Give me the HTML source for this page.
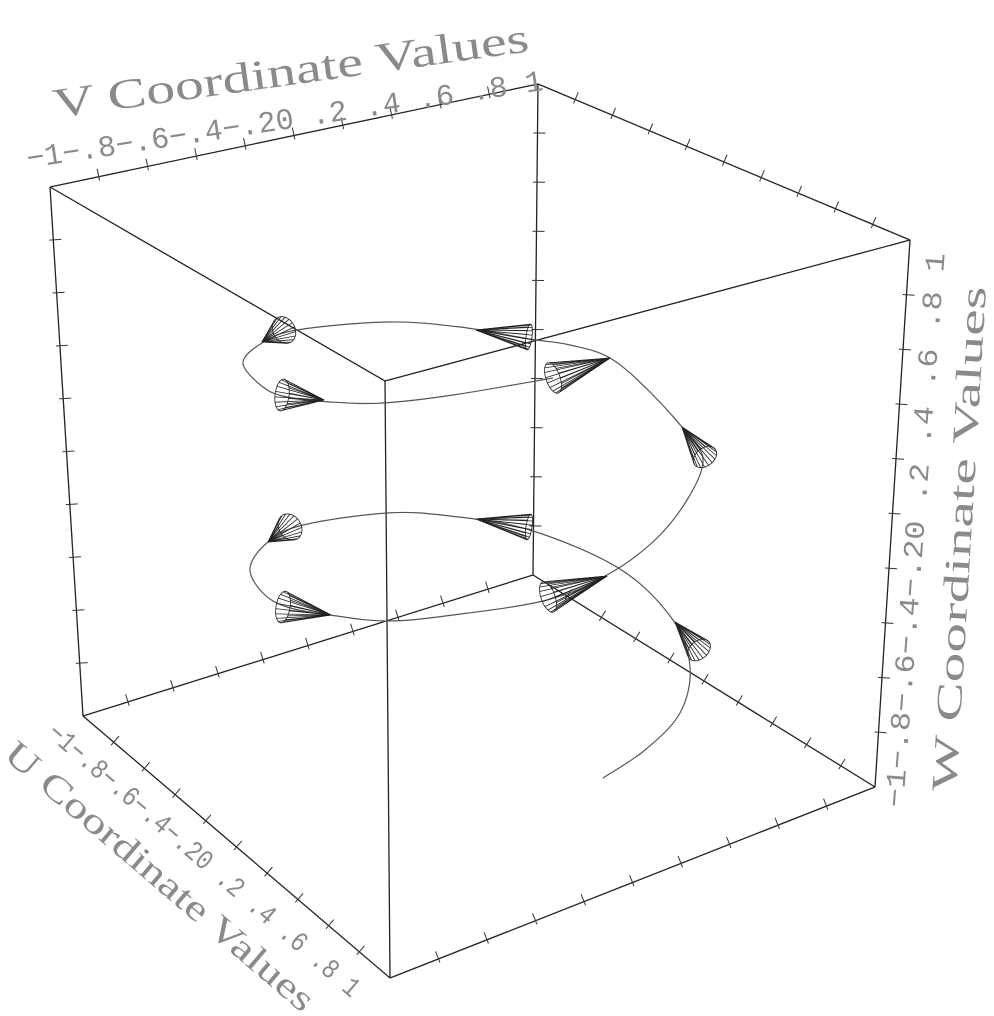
<!DOCTYPE html>
<html><head><meta charset="utf-8"><style>
html,body{margin:0;padding:0;background:#fff}
svg{display:block}
text{font-family:"Liberation Serif",serif;fill:#8a8a8a}
text.m{font-family:"Liberation Mono",monospace}
</style></head><body>
<svg id="s" width="994" height="1016" viewBox="0 0 994 1016" xmlns="http://www.w3.org/2000/svg">
<g stroke="#222" stroke-width="1.3" fill="none" id="cube">
<line x1="50" y1="187" x2="538" y2="84"/>
<line x1="538" y1="84" x2="910" y2="240"/>
<line x1="910" y1="240" x2="385" y2="381"/>
<line x1="385" y1="381" x2="50" y2="187"/>
<line x1="83" y1="716" x2="533" y2="575"/>
<line x1="533" y1="575" x2="875" y2="787"/>
<line x1="875" y1="787" x2="390" y2="978"/>
<line x1="390" y1="978" x2="83" y2="716"/>
<line x1="50" y1="187" x2="83" y2="716"/>
<line x1="538" y1="84" x2="533" y2="575"/>
<line x1="910" y1="240" x2="875" y2="787"/>
<line x1="385" y1="381" x2="390" y2="978"/>
</g>
<g id="ticks" stroke="#333" stroke-width="1"></g>
<path id="helix" stroke="#555" stroke-width="1.2" fill="none"/>
<g id="cones" stroke="#222" stroke-width="0.8" fill="none"></g>

<text font-size="42" textLength="480" lengthAdjust="spacingAndGlyphs" transform="translate(55,118) rotate(-8)">V Coordinate Values</text>
<text class="m" font-size="30" textLength="522" lengthAdjust="spacingAndGlyphs" transform="translate(28,168) rotate(-8.6)">−1−.8−.6−.4−.20 .2 .4 .6 .8 1</text>

<text font-size="36" textLength="395" lengthAdjust="spacingAndGlyphs" transform="translate(2,757) rotate(40.5)">U Coordinate Values</text>
<text class="m" font-size="28" textLength="403" lengthAdjust="spacingAndGlyphs" transform="translate(46,735) rotate(40.8)">−1−.8−.6−.4−.20 .2 .4 .6 .8 1</text>

<text font-size="36" textLength="506" lengthAdjust="spacingAndGlyphs" transform="translate(956,792) rotate(-86.6)">W Coordinate Values</text>
<text class="m" font-size="28" textLength="556" lengthAdjust="spacingAndGlyphs" transform="translate(903,808) rotate(-85.7)">−1−.8−.6−.4−.20 .2 .4 .6 .8 1</text>
</svg>
<script>
(function(){
var NS="http://www.w3.org/2000/svg";
function el(p,tag,a){var e=document.createElementNS(NS,tag);for(var k in a)e.setAttribute(k,a[k]);p.appendChild(e);return e;}
var tg=document.getElementById('ticks');
var edges=[[50,187,538,84],[538,84,910,240],[83,716,533,575],[533,575,875,787],[875,787,390,978],[390,978,83,716],[50,187,83,716],[538,84,533,575],[910,240,875,787]];
edges.forEach(function(e){
  var dx=e[2]-e[0],dy=e[3]-e[1],L=Math.hypot(dx,dy);
  var px=-dy/L,py=dx/L;
  if(Math.abs(dy)>Math.abs(dx)){ if(px<0){px=-px;py=-py;} } else { if(py>0){px=-px;py=-py;} }
  for(var i=1;i<10;i++){
    var x=e[0]+dx*i/10,y=e[1]+dy*i/10;
    el(tg,'line',{x1:x-px*4,y1:y-py*4,x2:x+px*8,y2:y+py*8});
  }
});
var P=[[603,778],[645,750],[680,713],[690,667],[673,620],[620,569],[530,530],[450,516],[387,513],[303,525],[268,542],[250,568],[263,593],[287,607],[330,615],[387,621],[453,615],[547,600],[607,575],[655,540],[687,500],[703,462],[690,437],[650,392],[610,358],[570,345],[530,339],[460,327],[387,322],[297,330],[262,343],[243,363],[263,387],[287,397],[330,402],[383,403],[453,395],[553,378]];
var d="M"+P[0][0]+","+P[0][1];
for(var i=0;i<P.length-1;i++){
  var p0=P[Math.max(i-1,0)],p1=P[i],p2=P[i+1],p3=P[Math.min(i+2,P.length-1)];
  var c1x=p1[0]+(p2[0]-p0[0])/6,c1y=p1[1]+(p2[1]-p0[1])/6;
  var c2x=p2[0]-(p3[0]-p1[0])/6,c2y=p2[1]-(p3[1]-p1[1])/6;
  d+=" C"+c1x.toFixed(1)+","+c1y.toFixed(1)+" "+c2x.toFixed(1)+","+c2y.toFixed(1)+" "+p2[0]+","+p2[1];
}
document.getElementById('helix').setAttribute('d',d);
var C=[[262,342,284,330,14,11],[476,330,529,337,13,3],[610,358,553,378,16,7],[682,427,705,457,13,9],[324,400,282,395,16,7],
[268,542,290,527,14,11],[476,519,529,527,13,3],[607,576,548,597,16,7],[675,622,699,650,13,9],[331,615,283,607,16,7]];
var cg=document.getElementById('cones');
C.forEach(function(c){
  var tx=c[0],ty=c[1],cx=c[2],cy=c[3],R=c[4],r=c[5];
  var dx=cx-tx,dy=cy-ty,L=Math.hypot(dx,dy);dx/=L;dy/=L;
  var px=-dy,py=dx;
  var pts=[];
  for(var k=0;k<36;k++){var f=k/36*2*Math.PI;pts.push([cx+R*Math.cos(f)*px+r*Math.sin(f)*dx,cy+R*Math.cos(f)*py+r*Math.sin(f)*dy]);}
  el(cg,'polygon',{points:pts.map(function(p){return p[0].toFixed(1)+","+p[1].toFixed(1)}).join(" ")});
  for(var k=0;k<36;k+=2){el(cg,'line',{x1:tx,y1:ty,x2:pts[k][0].toFixed(1),y2:pts[k][1].toFixed(1)});}
});
})();
</script>
</body></html>
